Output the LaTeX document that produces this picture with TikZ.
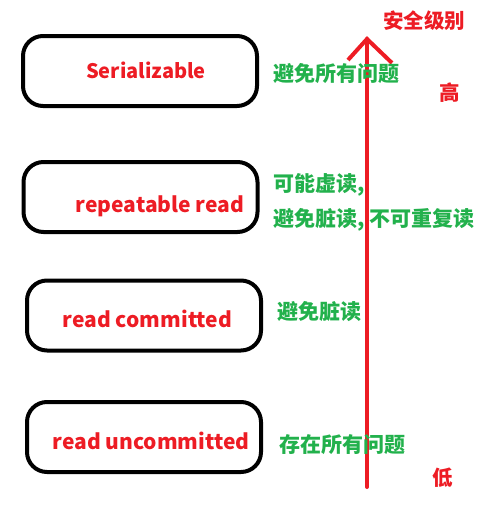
\documentclass[tikz,border=0pt]{standalone}
\usepackage{fontspec}
\setmainfont{Noto Sans CJK SC}
\newfontfamily\cjk{Noto Sans CJK SC}
\definecolor{pred}{HTML}{ED1C24}
\definecolor{pgreen}{HTML}{22B14C}
\begin{document}
\begin{tikzpicture}[x=1pt,y=-1pt,
  level/.style={draw=black, line width=4pt, rounded corners=20pt, minimum width=234pt, minimum height=70pt, inner sep=0pt},
  lvltext/.style={text=pred, font=\cjk\bfseries\fontsize{21}{24}\selectfont, anchor=center},
  note/.style={text=pgreen, font=\cjk\bfseries\fontsize{21}{24}\selectfont, anchor=west, inner sep=0pt},
  scalemark/.style={text=pred, font=\cjk\bfseries\fontsize{20.5}{24}\selectfont, inner sep=0pt}]
\useasboundingbox (0,0) rectangle (483,514);
\node[level] (b1) at (140,71) {};
\node[level] (b2) at (140.5,197) {};
\node[level] (b3) at (144,315.5) {};
\node[level] (b4) at (144,437) {};
\node[lvltext, font=\cjk\bfseries\fontsize{20}{24}\selectfont] (t1) at (146,70) {Serializable};
\node[lvltext] (t2) at (160,206) {repeatable read};
\node[lvltext] (t3) at (147.5,319) {read committed};
\node[lvltext] (t4) at (151,441) {read uncommitted};
\coordinate (bot) at (367,487);
\coordinate (top) at (367,39);
\coordinate (hl) at (348,60);
\coordinate (hr) at (392,63);
\draw[pred, line width=4pt, line cap=round] (bot) -- (top);
\draw[pred, line width=4pt] (hl) -- (top) -- (hr);
\node[note] (n1) at (273,74) {避免所有问题};
\node[note] (n2) at (273,185) {可能虚读,};
\node[note] (n3) at (273,220) {避免脏读, 不可重复读};
\node[note] (n4) at (277,312) {避免脏读};
\node[note] (n5) at (279,445) {存在所有问题};
\node[scalemark] (m1) at (424,21) {安全级别};
\node[scalemark] (m2) at (450,93) {高};
\node[scalemark] (m3) at (443,478) {低};
\end{tikzpicture}
\end{document}
